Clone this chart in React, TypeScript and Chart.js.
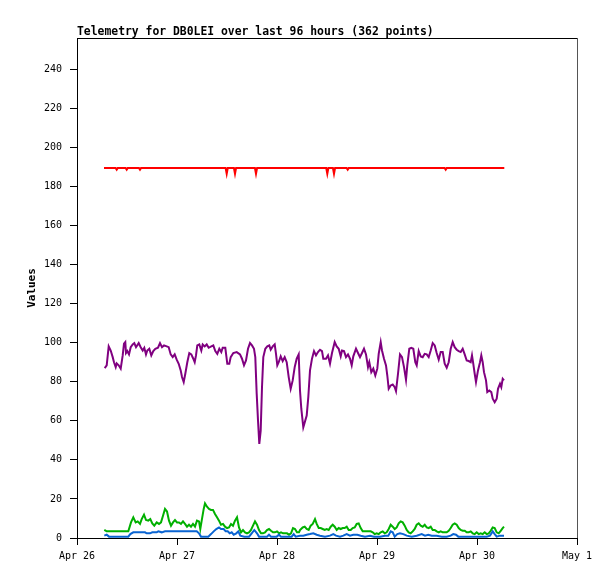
import React, { useEffect, useRef } from 'react';
import { Chart, registerables } from 'chart.js';

Chart.register(...registerables);

// x values are days since Apr 26 00:00
const xTickLabels = ['Apr 26', 'Apr 27', 'Apr 28', 'Apr 29', 'Apr 30', 'May 1'];
const chartTitle = 'Telemetry for DB0LEI over last 96 hours (362 points)';

const redSeries: [number, number][] = [
  [0.27, 189.5], [0.386, 189.5], [0.397, 188.6], [0.408, 189.5], [0.486, 189.5], [0.497, 188.6],
  [0.508, 189.5], [0.619, 189.5], [0.63, 188.6], [0.641, 189.5], [1.486, 189.5], [1.497, 186.5],
  [1.508, 189.5], [1.569, 189.5], [1.58, 186.5], [1.591, 189.5], [1.779, 189.5], [1.79, 186.5],
  [1.801, 189.5], [2.492, 189.5], [2.503, 186.5], [2.514, 189.5], [2.559, 189.5], [2.57, 186.5],
  [2.581, 189.5], [2.696, 189.5], [2.707, 188.6], [2.718, 189.5], [3.676, 189.5], [3.687, 188.6],
  [3.698, 189.5], [4.273, 189.5],
];

const purpleSeries: [number, number][] = [
  [0.277, 87.0], [0.297, 88.4], [0.317, 98.1], [0.337, 96], [0.357, 92.6], [0.37, 90], [0.387, 87.5],
  [0.397, 89.4], [0.417, 88.4], [0.437, 86.7], [0.457, 93.5], [0.47, 99.5], [0.483, 100.3], [0.49, 94.7],
  [0.503, 95.7], [0.52, 94], [0.537, 97.7], [0.557, 99.1], [0.573, 99.8], [0.59, 97.7], [0.617, 99.8],
  [0.637, 97.7], [0.657, 96], [0.673, 97.4], [0.69, 94], [0.703, 96], [0.723, 96.9], [0.743, 93.5],
  [0.763, 95.7], [0.783, 96.9], [0.81, 97.4], [0.83, 99.8], [0.85, 97.7], [0.87, 98.6], [0.897, 98.1],
  [0.917, 97.7], [0.937, 94], [0.957, 92.6], [0.977, 94], [0.997, 91.3], [1.017, 89.2], [1.037, 85.8],
  [1.05, 82.4], [1.067, 79.8], [1.083, 84.1], [1.103, 90], [1.123, 94.7], [1.143, 94], [1.163, 91.8],
  [1.177, 90], [1.19, 93.5], [1.203, 98.6], [1.223, 99.1], [1.243, 96], [1.257, 99.1], [1.277, 98.1],
  [1.297, 99.1], [1.317, 97.4], [1.343, 98.1], [1.363, 98.6], [1.383, 95.7], [1.403, 94.3], [1.423, 96.9],
  [1.443, 95.2], [1.457, 97.4], [1.483, 97.4], [1.503, 89.2], [1.523, 89.2], [1.537, 92.6], [1.563, 94.7],
  [1.597, 95.2], [1.63, 94], [1.65, 91.8], [1.67, 88.4], [1.69, 90.9], [1.71, 96.9], [1.73, 99.8],
  [1.75, 98.6], [1.77, 96.9], [1.783, 92.6], [1.797, 73.8], [1.81, 60.2], [1.823, 48.2], [1.837, 55],
  [1.85, 77.2], [1.863, 92.6], [1.883, 96.9], [1.903, 98.1], [1.923, 98.6], [1.937, 96.4], [1.957, 98.1],
  [1.977, 99.1], [1.99, 94.3], [2.003, 88.4], [2.017, 90], [2.037, 93], [2.057, 90.6], [2.077, 92.6],
  [2.097, 90], [2.117, 82.4], [2.137, 76.4], [2.157, 80.7], [2.177, 87.5], [2.197, 91.8], [2.217, 94],
  [2.23, 75.5], [2.243, 66.2], [2.263, 56.7], [2.297, 62.7], [2.313, 72.1], [2.33, 85.8], [2.35, 91.8],
  [2.37, 95.7], [2.39, 93.5], [2.41, 95.2], [2.43, 96.4], [2.45, 95.7], [2.463, 91.8], [2.49, 91.8],
  [2.51, 93.5], [2.53, 89.2], [2.55, 94.7], [2.577, 100.3], [2.597, 98.1], [2.617, 96.9], [2.637, 93],
  [2.65, 96], [2.67, 95.7], [2.69, 92.6], [2.71, 94], [2.73, 91.8], [2.747, 88.4], [2.763, 93],
  [2.79, 96.9], [2.81, 94.7], [2.83, 92.6], [2.85, 94.7], [2.87, 96.9], [2.89, 94], [2.91, 87.5],
  [2.923, 90], [2.943, 84.9], [2.963, 86.7], [2.983, 83.2], [3.003, 86.7], [3.017, 94.3], [3.037, 100.3],
  [3.05, 96], [3.07, 91.8], [3.09, 88.4], [3.103, 83.2], [3.117, 76.4], [3.137, 78.1], [3.157, 78.6],
  [3.177, 77.2], [3.19, 75.2], [3.21, 84.1], [3.23, 94], [3.25, 92.6], [3.27, 87.5], [3.29, 81],
  [3.303, 88.4], [3.323, 96.9], [3.343, 97.4], [3.363, 96.9], [3.383, 90], [3.397, 88.4], [3.417, 95.7],
  [3.437, 93], [3.457, 92.6], [3.477, 94.3], [3.497, 94], [3.517, 92.6], [3.537, 96], [3.557, 99.8],
  [3.577, 98.6], [3.597, 94.7], [3.617, 91.3], [3.637, 95.2], [3.657, 95.2], [3.677, 89.2], [3.697, 87.2],
  [3.717, 90], [3.737, 96.9], [3.757, 100.3], [3.777, 97.7], [3.797, 96.4], [3.817, 95.7], [3.837, 95.2],
  [3.857, 96.9], [3.877, 94], [3.897, 90.9], [3.917, 90.6], [3.937, 90], [3.95, 93.5], [3.963, 89.2],
  [3.977, 84.1], [3.99, 79.8], [4.01, 85.8], [4.03, 90], [4.043, 93.5], [4.057, 90], [4.07, 84.9],
  [4.09, 80.7], [4.103, 74.7], [4.123, 75.5], [4.143, 74.7], [4.157, 71.3], [4.177, 69.5], [4.197, 71.3],
  [4.21, 76.4], [4.23, 79], [4.243, 77.2], [4.257, 81.5], [4.27, 80.7],
];

const greenSeries: [number, number][] = [
  [0.273, 4.1], [0.297, 3.4], [0.513, 3.4], [0.54, 8], [0.563, 10.6], [0.587, 8], [0.607, 8.5], [0.63, 7.2],
  [0.647, 9.7], [0.67, 11.9], [0.69, 9.2], [0.713, 8.9], [0.733, 9.7], [0.753, 7.5], [0.773, 6.3],
  [0.797, 8], [0.82, 7.2], [0.84, 8], [0.86, 11.4], [0.88, 14.9], [0.9, 13.6], [0.92, 8.9], [0.94, 6.3],
  [0.96, 8], [0.98, 9.2], [1.0, 8], [1.02, 8], [1.04, 7.2], [1.06, 8.5], [1.08, 7.2], [1.1, 5.8],
  [1.12, 6.8], [1.14, 5.8], [1.16, 7.2], [1.18, 5.8], [1.2, 8.9], [1.22, 8.5], [1.233, 4.6], [1.247, 8.9],
  [1.267, 14.9], [1.28, 17.7], [1.3, 16], [1.32, 14.9], [1.34, 14.4], [1.36, 14.4], [1.38, 12.3],
  [1.4, 10.6], [1.42, 8.9], [1.44, 6.8], [1.46, 7.2], [1.48, 5.8], [1.5, 5.1], [1.52, 5.4], [1.54, 7.2],
  [1.56, 6.3], [1.58, 8.9], [1.6, 10.6], [1.62, 5.4], [1.64, 2.9], [1.66, 4.1], [1.68, 2.9], [1.7, 2.4],
  [1.72, 2.9], [1.74, 4.1], [1.76, 6.3], [1.78, 8.5], [1.8, 6.8], [1.82, 4.1], [1.84, 2.4], [1.86, 2.4],
  [1.88, 2.9], [1.9, 4.1], [1.92, 4.6], [1.94, 3.7], [1.96, 2.9], [1.98, 2.9], [2.0, 3.4], [2.02, 2.4],
  [2.04, 2.9], [2.06, 2.4], [2.1, 2.4], [2.12, 1.7], [2.14, 2.4], [2.16, 5.1], [2.18, 4.6], [2.2, 2.9],
  [2.22, 2.9], [2.23, 4.1], [2.257, 5.4], [2.277, 5.8], [2.297, 4.6], [2.317, 4.1], [2.337, 6.3],
  [2.357, 7.2], [2.38, 9.7], [2.397, 7.2], [2.417, 5.1], [2.437, 5.1], [2.457, 4.6], [2.477, 4.1],
  [2.497, 4.6], [2.517, 4.1], [2.537, 5.8], [2.557, 6.8], [2.577, 5.8], [2.597, 4.1], [2.617, 5.1],
  [2.637, 4.6], [2.657, 5.1], [2.677, 5.1], [2.697, 5.8], [2.717, 4.1], [2.737, 4.1], [2.757, 5.1],
  [2.777, 5.4], [2.797, 7.2], [2.817, 7.5], [2.837, 5.1], [2.857, 3.4], [2.937, 3.4], [2.957, 2.9],
  [2.977, 2], [2.997, 2.4], [3.017, 2], [3.037, 2.9], [3.057, 3.4], [3.077, 2.4], [3.097, 2.9],
  [3.117, 4.6], [3.137, 6.8], [3.157, 5.8], [3.177, 4.6], [3.197, 5.4], [3.217, 7.5], [3.237, 8.5],
  [3.257, 8], [3.277, 6.3], [3.297, 4.1], [3.317, 2.9], [3.337, 2.4], [3.357, 3.4], [3.377, 4.6],
  [3.397, 6.8], [3.417, 7.5], [3.437, 6.3], [3.457, 5.8], [3.477, 6.8], [3.497, 5.4], [3.517, 5.1],
  [3.537, 5.8], [3.557, 4.1], [3.577, 4.1], [3.597, 3.4], [3.617, 2.9], [3.637, 3.4], [3.657, 2.9],
  [3.697, 2.9], [3.717, 3.7], [3.737, 5.1], [3.757, 6.8], [3.777, 7.5], [3.797, 6.8], [3.817, 5.1],
  [3.837, 4.1], [3.857, 3.7], [3.877, 3.7], [3.897, 2.9], [3.917, 2.9], [3.937, 3.4], [3.957, 2.4],
  [3.977, 2], [3.997, 2.9], [4.017, 2], [4.037, 2.4], [4.057, 2], [4.077, 2.9], [4.097, 2], [4.117, 2.4],
  [4.137, 3.7], [4.157, 5.4], [4.177, 5.1], [4.197, 2.9], [4.217, 2.4], [4.237, 3.7], [4.257, 5.1],
  [4.27, 5.8],
];

const blueSeries: [number, number][] = [
  [0.273, 1.2], [0.297, 1.7], [0.32, 0.7], [0.513, 0.7], [0.533, 2], [0.563, 2.9], [0.68, 2.9],
  [0.697, 2.4], [0.73, 2.4], [0.753, 2.9], [0.797, 2.9], [0.813, 3.4], [0.847, 2.9], [0.88, 3.4],
  [1.047, 3.4], [1.197, 3.4], [1.22, 2.4], [1.24, 0.7], [1.313, 0.7], [1.34, 2], [1.367, 3.4],
  [1.393, 4.6], [1.42, 5.4], [1.44, 4.6], [1.467, 4.6], [1.487, 3.4], [1.507, 3.4], [1.527, 2.4],
  [1.547, 2.9], [1.567, 1.7], [1.593, 2.4], [1.613, 3.4], [1.633, 1.2], [1.673, 0.7], [1.72, 0.7],
  [1.747, 2.4], [1.773, 4.1], [1.8, 2.4], [1.82, 0.7], [1.9, 0.7], [1.92, 1.7], [1.94, 0.7], [1.997, 0.7],
  [2.02, 1.7], [2.04, 0.7], [2.147, 0.7], [2.167, 2], [2.187, 0.7], [2.23, 1.2], [2.263, 1.2],
  [2.297, 1.7], [2.33, 2], [2.363, 2.4], [2.397, 1.7], [2.43, 1.2], [2.48, 0.7], [2.53, 1.2], [2.563, 2],
  [2.59, 1.2], [2.63, 0.7], [2.663, 1.2], [2.697, 2], [2.73, 1.2], [2.763, 1.7], [2.803, 1.7],
  [2.837, 1.2], [2.88, 0.7], [2.93, 1.2], [2.97, 0.7], [3.03, 0.7], [3.08, 1.2], [3.113, 1.2],
  [3.137, 3.4], [3.157, 2.9], [3.177, 0.7], [3.203, 2], [3.23, 2.4], [3.263, 2], [3.297, 1.2],
  [3.347, 0.7], [3.397, 1.2], [3.447, 2], [3.48, 1.2], [3.513, 1.7], [3.547, 1.2], [3.597, 1.2],
  [3.647, 0.7], [3.697, 0.7], [3.737, 1.2], [3.763, 2], [3.79, 1.7], [3.813, 0.7], [4.097, 0.7],
  [4.13, 1.2], [4.157, 3.4], [4.177, 2], [4.197, 0.7], [4.23, 1.2], [4.27, 1.2],
];

const FONT = '"DejaVu Sans Mono", monospace';

// title above the plot and the top/right frame lines
const framePlugin = {
  id: 'frame',
  afterDraw(chart: Chart) {
    const { ctx, chartArea } = chart;
    ctx.save();
    ctx.lineWidth = 1;
    ctx.strokeStyle = '#000';
    ctx.beginPath();
    ctx.moveTo(chartArea.left, chartArea.top + 0.5);
    ctx.lineTo(chartArea.right, chartArea.top + 0.5);
    ctx.stroke();
    ctx.strokeStyle = '#555';
    ctx.beginPath();
    ctx.moveTo(chartArea.right + 0.5, chartArea.top);
    ctx.lineTo(chartArea.right + 0.5, chartArea.bottom);
    ctx.stroke();
    ctx.fillStyle = '#000';
    ctx.font = `bold 11.4px ${FONT}`;
    ctx.textAlign = 'left';
    ctx.textBaseline = 'alphabetic';
    ctx.fillText(chartTitle, chartArea.left, chartArea.top - 3);
    ctx.restore();
  },
};

const toPoints = (s: [number, number][]) => s.map(([x, y]) => ({ x, y }));

const App: React.FC = () => {
  const canvasRef = useRef<HTMLCanvasElement | null>(null);
  const chartRef = useRef<Chart | null>(null);

  useEffect(() => {
    document.body.style.margin = '0';
    if (!canvasRef.current) return;
    if (chartRef.current) chartRef.current.destroy();

    const line = (data: [number, number][], color: string) => ({
      data: toPoints(data),
      borderColor: color,
      backgroundColor: color,
      borderWidth: 2,
      pointRadius: 0,
      tension: 0,
      fill: false,
    });

    chartRef.current = new Chart(canvasRef.current, {
      type: 'line',
      data: {
        datasets: [
          line(redSeries, '#ff0000'),
          line(purpleSeries, '#800080'),
          line(blueSeries, '#0a64d2'),
          line(greenSeries, '#00b000'),
        ],
      },
      plugins: [framePlugin],
      options: {
        animation: false,
        responsive: false,
        devicePixelRatio: 1,
        layout: { padding: { top: 38, right: 38, left: 0, bottom: 0 } },
        plugins: {
          legend: { display: false },
          tooltip: { enabled: false },
          title: { display: false },
        },
        scales: {
          x: {
            type: 'linear',
            min: 0,
            max: 5,
            afterFit: (scale: any) => {
              scale.height = 41;
            },
            border: { color: '#000', width: 1 },
            grid: { drawOnChartArea: false, drawTicks: true, tickLength: 7, color: '#000' },
            ticks: {
              stepSize: 1,
              padding: 5,
              color: '#000',
              font: { family: FONT, size: 10 },
              maxRotation: 0,
              callback: (v: any) => xTickLabels[Number(v)] ?? '',
            },
          },
          y: {
            type: 'linear',
            min: 0,
            max: 256,
            afterFit: (scale: any) => {
              scale.width = 77;
            },
            afterBuildTicks: (scale: any) => {
              scale.ticks = scale.ticks.filter((t: any) => t.value % 20 === 0);
            },
            border: { color: '#000', width: 1 },
            grid: { drawOnChartArea: false, drawTicks: true, tickLength: 7, color: '#000' },
            title: {
              display: true,
              text: 'Values',
              color: '#000',
              font: { family: FONT, size: 11, weight: 'bold' },
              padding: { top: 26, bottom: 0 },
            },
            ticks: {
              stepSize: 20,
              padding: 8,
              color: '#000',
              font: { family: FONT, size: 10 },
            },
          },
        },
      },
    });

    return () => {
      if (chartRef.current) {
        chartRef.current.destroy();
        chartRef.current = null;
      }
    };
  }, []);

  return (
    <div style={{ width: 615, height: 579, background: '#fff' }}>
      <canvas ref={canvasRef} width={615} height={579} style={{ width: 615, height: 579 }} />
    </div>
  );
};

export default App;
